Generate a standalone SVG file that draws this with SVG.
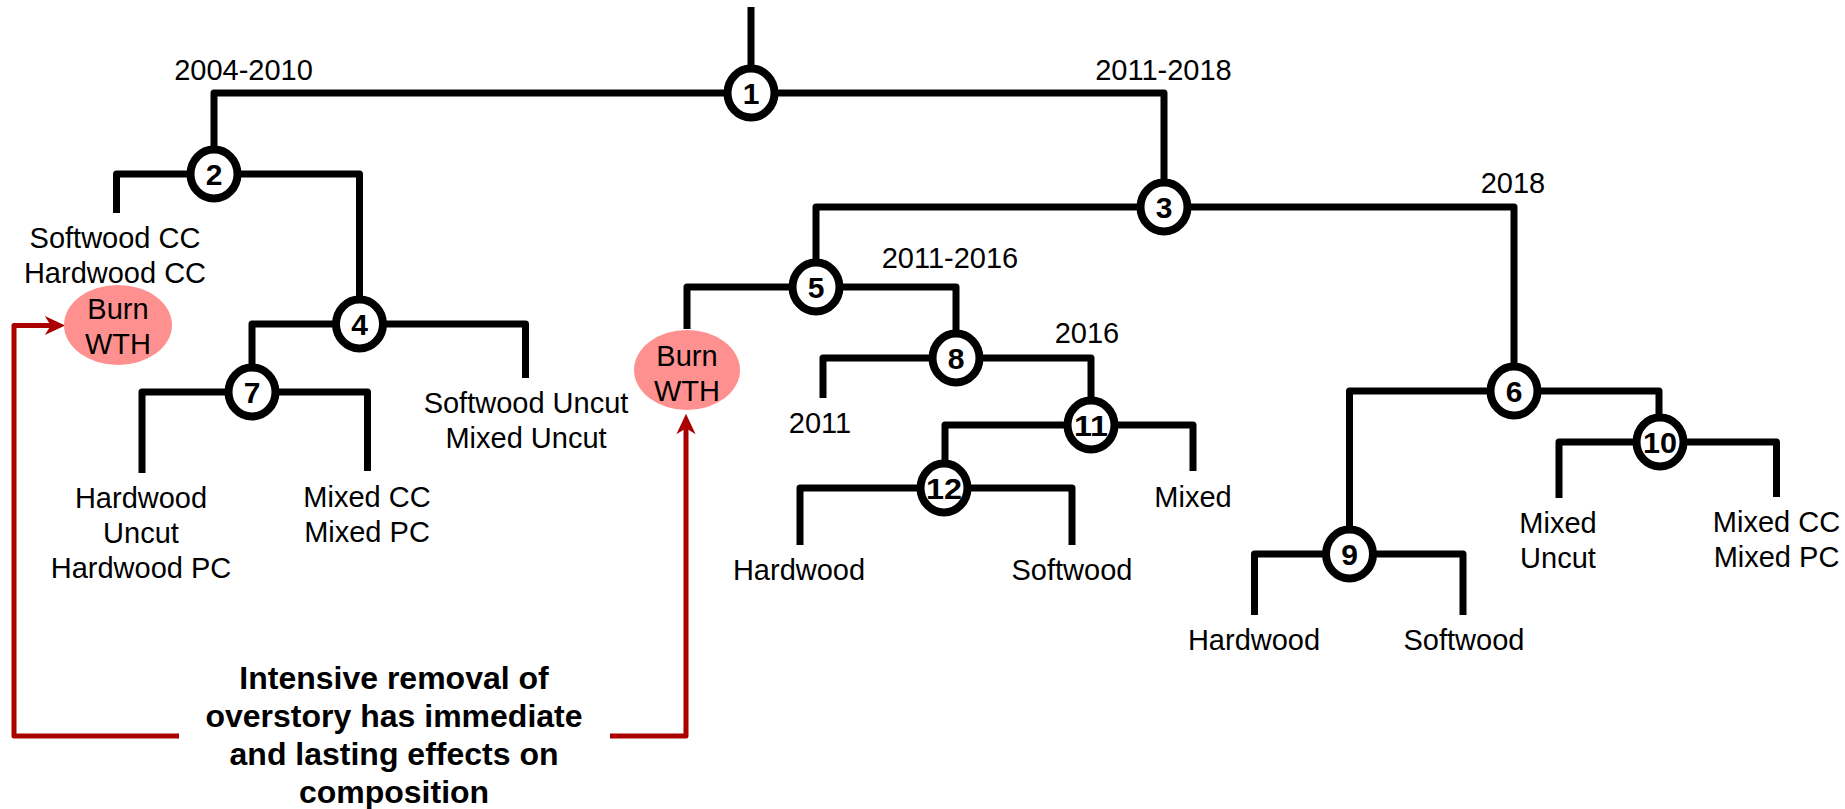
<svg xmlns="http://www.w3.org/2000/svg" width="1845" height="809" viewBox="0 0 1845 809">
  <style>
    .branch { fill: none; stroke: #000; stroke-width: 7; stroke-linejoin: round; stroke-linecap: butt; }
    .effect { fill: none; stroke: #AA0000; stroke-width: 5; stroke-linejoin: round; }
    .ring { fill: #fff; stroke: #000; stroke-width: 8; }
    .num { font-family: "Liberation Sans", Arial, sans-serif; font-weight: bold; font-size: 30px; text-anchor: middle; fill: #000; }
    .lbl { font-family: "Liberation Sans", Arial, sans-serif; font-size: 29px; text-anchor: middle; fill: #000; }
    .burn { fill: #FF9090; }
    .note { font-family: "Liberation Sans", Arial, sans-serif; font-weight: bold; font-size: 32px; text-anchor: middle; fill: #000; }
  </style>
  <defs>
    <marker id="redhead" markerUnits="userSpaceOnUse" markerWidth="30" markerHeight="30" viewBox="-10 -10 25 20" refX="0" refY="0" orient="auto">
      <path d="M11,0 L-6,-8 L-1,0 L-6,8 Z" fill="#AA0000"/>
    </marker>
  </defs>
  <rect width="1845" height="809" fill="#fff"/>

  <!-- tree branches -->
  <g id="connectors">
    <path class="branch" d="M751,7 V93"/>
    <path class="branch" d="M214,174 V93 H1164 V207"/>
    <path class="branch" d="M116.5,213 V174 H359.5 V324"/>
    <path class="branch" d="M816,287 V207 H1514 V391"/>
    <path class="branch" d="M252,392 V324 H525.5 V378"/>
    <path class="branch" d="M687,329 V287 H956 V358"/>
    <path class="branch" d="M1349.5,554 V391 H1659 V442"/>
    <path class="branch" d="M142,473 V392 H367.5 V471"/>
    <path class="branch" d="M823,398 V358 H1091 V425"/>
    <path class="branch" d="M1254.5,615 V554 H1463 V615"/>
    <path class="branch" d="M1559,498 V442 H1776.5 V497"/>
    <path class="branch" d="M945,488 V425 H1193 V471"/>
    <path class="branch" d="M800,545 V488 H1072 V545"/>
    <!-- red callout arrows -->
    <path class="effect" d="M179,736 H14 V325.5 H52" marker-end="url(#redhead)"/>
    <path class="effect" d="M610,736 H686 V427" marker-end="url(#redhead)"/>
  </g>

  <!-- split labels -->
  <g id="split-labels">
    <text class="lbl" x="243.5" y="80">2004-2010</text>
    <text class="lbl" x="1163.5" y="80">2011-2018</text>
    <text class="lbl" x="1513" y="193">2018</text>
    <text class="lbl" x="950" y="268">2011-2016</text>
    <text class="lbl" x="1087" y="343">2016</text>
    <text class="lbl" x="820" y="433">2011</text>
  </g>

  <!-- numbered split nodes -->
  <g id="node-1"><ellipse class="ring" cx="751" cy="93" rx="23.5" ry="24.5"/><text class="num" x="751" y="104">1</text></g>
  <g id="node-2"><ellipse class="ring" cx="214" cy="174" rx="23.5" ry="24.5"/><text class="num" x="214" y="185">2</text></g>
  <g id="node-3"><ellipse class="ring" cx="1164" cy="207" rx="23.5" ry="24.5"/><text class="num" x="1164" y="218">3</text></g>
  <g id="node-4"><ellipse class="ring" cx="359.5" cy="324" rx="23.5" ry="24.5"/><text class="num" x="359.5" y="335">4</text></g>
  <g id="node-5"><ellipse class="ring" cx="816" cy="287" rx="23.5" ry="24.5"/><text class="num" x="816" y="298">5</text></g>
  <g id="node-6"><ellipse class="ring" cx="1514" cy="391" rx="23.5" ry="24.5"/><text class="num" x="1514" y="402">6</text></g>
  <g id="node-7"><ellipse class="ring" cx="252" cy="392" rx="23.5" ry="24.5"/><text class="num" x="252" y="403">7</text></g>
  <g id="node-8"><ellipse class="ring" cx="956" cy="358" rx="23.5" ry="24.5"/><text class="num" x="956" y="369">8</text></g>
  <g id="node-9"><ellipse class="ring" cx="1349.5" cy="554" rx="23.5" ry="24.5"/><text class="num" x="1349.5" y="565">9</text></g>
  <g id="node-10"><ellipse class="ring" cx="1660" cy="442" rx="23.5" ry="24.5"/><text class="num" x="1660" y="453" textLength="34" lengthAdjust="spacingAndGlyphs">10</text></g>
  <g id="node-11"><ellipse class="ring" cx="1091" cy="425" rx="23.5" ry="24.5"/><text class="num" x="1091" y="436" textLength="34" lengthAdjust="spacingAndGlyphs">11</text></g>
  <g id="node-12"><ellipse class="ring" cx="944" cy="488" rx="23.5" ry="24.5"/><text class="num" x="944" y="499" textLength="36" lengthAdjust="spacingAndGlyphs">12</text></g>

  <!-- burn / whole-tree-harvest terminals -->
  <g id="burn-left">
    <ellipse class="burn" cx="118" cy="325" rx="54" ry="40"/>
    <text class="lbl" x="118" y="319">Burn</text>
    <text class="lbl" x="118" y="354">WTH</text>
  </g>
  <g id="burn-right">
    <ellipse class="burn" cx="687" cy="370" rx="53" ry="40"/>
    <text class="lbl" x="687" y="366">Burn</text>
    <text class="lbl" x="687" y="401">WTH</text>
  </g>

  <!-- terminal groups -->
  <g id="leaf-2a">
    <text class="lbl" x="115" y="248">Softwood CC</text>
    <text class="lbl" x="115" y="283">Hardwood CC</text>
  </g>
  <g id="leaf-7a">
    <text class="lbl" x="141" y="508">Hardwood</text>
    <text class="lbl" x="141" y="543">Uncut</text>
    <text class="lbl" x="141" y="578">Hardwood PC</text>
  </g>
  <g id="leaf-7b">
    <text class="lbl" x="367" y="507">Mixed CC</text>
    <text class="lbl" x="367" y="542">Mixed PC</text>
  </g>
  <g id="leaf-4b">
    <text class="lbl" x="526" y="413">Softwood Uncut</text>
    <text class="lbl" x="526" y="448">Mixed Uncut</text>
  </g>
  <g id="leaf-11b"><text class="lbl" x="1193" y="507">Mixed</text></g>
  <g id="leaf-12a"><text class="lbl" x="799" y="580">Hardwood</text></g>
  <g id="leaf-12b"><text class="lbl" x="1072" y="580">Softwood</text></g>
  <g id="leaf-9a"><text class="lbl" x="1254" y="650">Hardwood</text></g>
  <g id="leaf-9b"><text class="lbl" x="1464" y="650">Softwood</text></g>
  <g id="leaf-10a">
    <text class="lbl" x="1558" y="533">Mixed</text>
    <text class="lbl" x="1558" y="568">Uncut</text>
  </g>
  <g id="leaf-10b">
    <text class="lbl" x="1776.5" y="532">Mixed CC</text>
    <text class="lbl" x="1776.5" y="567">Mixed PC</text>
  </g>

  <!-- callout note -->
  <g id="note">
    <text class="note" x="394" y="689">Intensive removal of</text>
    <text class="note" x="394" y="727">overstory has immediate</text>
    <text class="note" x="394" y="765">and lasting effects on</text>
    <text class="note" x="394" y="803">composition</text>
  </g>
</svg>
